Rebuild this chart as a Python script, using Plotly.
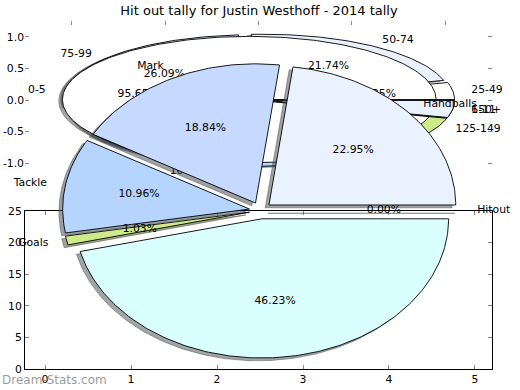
import numpy as np
import plotly.graph_objects as go

TITLE = "Hit out tally for Justin Westhoff - 2014 tally"
WATERMARK = "Dream-Stats.com"

# Top pie A: disposal ranges (share of games, %)
range_labels = ["25-49", "50-74", "75-99", "100-124", "125-149", "150+"]
range_values = [4.35, 21.74, 26.09, 39.13, 4.35, 4.35]

# Top pie B: hit-out ranges (share of games, %)
hitout_labels = ["0-5", "6-11"]
hitout_values = [95.65, 4.35]

# Large pie: stat breakdown (%)
stat_labels = ["Hitout", "Handballs", "Mark", "Tackle", "Goals", "Kicks"]
stat_values = [0.00, 22.95, 18.84, 10.96, 1.03, 46.23]

palette = ["#ffffff", "#ebf2ff", "#c6d9ff", "#b5d5ff", "#cdeb8b", "#d9ffff"]

top_ticks = [-1.0, -0.5, 0.0, 0.5, 1.0]
top_ticktext = ["-1.0", "-0.5", "0.0", "0.5", "1.0"]
bottom_xticks = [0, 1, 2, 3, 4, 5]
bottom_yticks = [0, 5, 10, 15, 20, 25]

FONT = "DejaVu Sans"
FS = 10.8


def shade(color):
    c = color.lstrip("#")
    r, g, b = (int(c[i:i + 2], 16) for i in (0, 2, 4))
    return "rgba(%d,%d,%d,0.5)" % (r * 0.3, g * 0.3, b * 0.3)


def pie_geometry(values, explode):
    total = float(sum(values))
    t1 = 0.0
    out = []
    for v in values:
        frac = v / total
        t2 = t1 + frac * 360.0
        mid = np.deg2rad((t1 + t2) / 2.0)
        cx, cy = explode * np.cos(mid), explode * np.sin(mid)
        n = max(2, int(abs(t2 - t1)) + 2)
        th = np.deg2rad(np.linspace(t1, t2, n))
        xs = np.concatenate([[cx], cx + np.cos(th), [cx]])
        ys = np.concatenate([[cy], cy + np.sin(th), [cy]])
        out.append(dict(xs=xs, ys=ys, mid=mid, cx=cx, cy=cy, pct=frac * 100))
        t1 = t2
    return out


def shadow_traces(geo, colors, xa, ya):
    tr = []
    for i, g in enumerate(geo):
        col = shade(colors[i % len(colors)])
        tr.append(go.Scatter(x=g["xs"] - 0.02, y=g["ys"] - 0.02, mode="lines",
                             fill="toself", fillcolor=col,
                             line=dict(color=col, width=0.9),
                             xaxis=xa, yaxis=ya, hoverinfo="skip"))
    return tr


def wedge_traces(geo, colors, xa, ya):
    tr = []
    for i, g in enumerate(geo):
        tr.append(go.Scatter(x=g["xs"], y=g["ys"], mode="lines", fill="toself",
                             fillcolor=colors[i % len(colors)],
                             line=dict(color="black", width=0.9),
                             xaxis=xa, yaxis=ya, hoverinfo="skip"))
    return tr


def text_traces(geo, labels, xa, ya):
    tr = []
    for g, lab in zip(geo, labels):
        lx = g["cx"] + 1.1 * np.cos(g["mid"])
        ly = g["cy"] + 1.1 * np.sin(g["mid"])
        pos = "middle right" if lx > 0 else "middle left"
        tr.append(go.Scatter(x=[lx], y=[ly], mode="text", text=[lab],
                             textposition=pos, cliponaxis=False,
                             textfont=dict(family=FONT, size=FS, color="black"),
                             xaxis=xa, yaxis=ya, hoverinfo="skip"))
        px = g["cx"] + 0.6 * np.cos(g["mid"])
        py = g["cy"] + 0.6 * np.sin(g["mid"])
        tr.append(go.Scatter(x=[px], y=[py], mode="text",
                             text=["%1.2f%%" % g["pct"]],
                             textposition="middle center", cliponaxis=False,
                             textfont=dict(family=FONT, size=FS, color="black"),
                             xaxis=xa, yaxis=ya, hoverinfo="skip"))
    return tr


geoA = pie_geometry(range_values, 0.05)
geoB = pie_geometry(hitout_values, 0.05)
geoC = pie_geometry(stat_values, 0.06)

traces = []
# top subplot (x, y)
traces += shadow_traces(geoA, palette, "x", "y")
traces += shadow_traces(geoB, palette, "x", "y")
traces += wedge_traces(geoA, palette, "x", "y")
traces += wedge_traces(geoB, palette, "x", "y")
traces += text_traces(geoA, range_labels, "x", "y")
traces += text_traces(geoB, hitout_labels, "x", "y")
# bottom subplot (x2, y2): empty frame
traces.append(go.Scatter(x=[None], y=[None], mode="markers", xaxis="x2", yaxis="y2",
                         hoverinfo="skip"))
# overlay subplot (x3, y3): large pie
traces += shadow_traces(geoC, palette, "x3", "y3")
traces += wedge_traces(geoC, palette, "x3", "y3")
traces += text_traces(geoC, stat_labels, "x3", "y3")

fig = go.Figure(traces)

L, R, T, B = 25, 492, 21, 369
W, H = R - L, B - T
top_dom = [(B - 179) / H, 1.0]
bot_dom = [0.0, (B - 211) / H]
pxu_x = W / 2.5
pxu_y = H / 2.5
cx2, cy2 = 260.5, 210.5

tickfont = dict(family=FONT, size=FS, color="black")
common = dict(showgrid=False, zeroline=False, ticks="inside", ticklen=4,
              tickcolor="#888", tickwidth=1, tickfont=tickfont, automargin=False)

fig.update_layout(
    width=520, height=390,
    margin=dict(l=L, r=520 - R, t=T, b=390 - B, autoexpand=False),
    paper_bgcolor="white", plot_bgcolor="rgba(0,0,0,0)",
    showlegend=False,
    title=dict(text=TITLE, x=(259 - L) / W, xref="paper", xanchor="center",
               y=1 - 10 / 390, yref="container", yanchor="middle",
               font=dict(family=FONT, size=13, color="black"),
               automargin=False),
    xaxis=dict(domain=[0, 1], anchor="y", range=[-1.25, 1.25], side="top",
               tickvals=top_ticks, showticklabels=False, showline=False, **common),
    yaxis=dict(domain=top_dom, anchor="x", range=[-1.25, 1.25], tickvals=top_ticks,
               ticktext=top_ticktext, showline=False, mirror="ticks", **common),
    xaxis2=dict(domain=[0, 1], anchor="y2", range=[-0.233, 5.198],
                tickvals=bottom_xticks, showline=True, linecolor="black",
                linewidth=1, mirror="ticks", **common),
    yaxis2=dict(domain=bot_dom, anchor="x2", range=[0, 25], tickvals=bottom_yticks,
                showline=True, linecolor="black", linewidth=1, mirror="ticks", **common),
    xaxis3=dict(domain=[0, 1], anchor="y3",
                range=[(L - cx2) / pxu_x, (R - cx2) / pxu_x], visible=False),
    yaxis3=dict(domain=[0, 1], anchor="x3",
                range=[-(B - cy2) / pxu_y, (cy2 - T) / pxu_y], visible=False),
    annotations=[dict(text=WATERMARK, xref="paper", yref="paper",
                      x=-L / W, y=(B - 380) / H, xanchor="left", yanchor="middle",
                      showarrow=False,
                      font=dict(family=FONT, size=12, color="rgba(120,120,120,0.75)"))],
)

fig.write_html("out.html", config={"displayModeBar": False},
               post_script="document.body.style.margin='0';document.body.style.overflow='hidden';")
